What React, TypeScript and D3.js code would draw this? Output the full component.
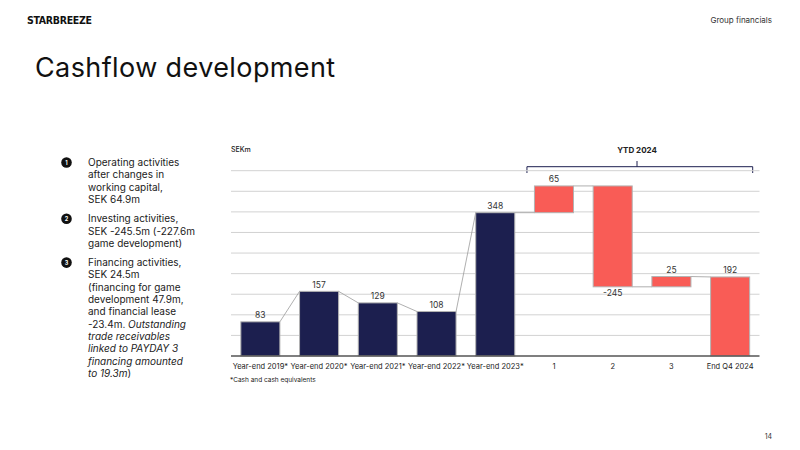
import React from 'react';
import * as d3 from 'd3';

// chart data
const categories = [
  'Year-end 2019*',
  'Year-end 2020*',
  'Year-end 2021*',
  'Year-end 2022*',
  'Year-end 2023*',
  '1',
  '2',
  '3',
  'End Q4 2024',
];
const values = [83, 157, 129, 108, 348, 65, -245, 25, 192];
const kinds = ['total', 'total', 'total', 'total', 'total', 'delta', 'delta', 'delta', 'total'];
const yTicks = [50, 100, 150, 200, 250, 300, 350, 400, 450];

const notes = [
  { num: '1', lines: [['Operating activities'], ['after changes in'], ['working capital,'], ['SEK 64.9m']] },
  { num: '2', lines: [['Investing activities,'], ['SEK -245.5m (-227.6m'], ['game development)']] },
  {
    num: '3',
    lines: [
      ['Financing activities,'],
      ['SEK 24.5m'],
      ['(financing for game'],
      ['development 47.9m,'],
      ['and financial lease'],
      ['-23.4m. ', '*Outstanding'],
      ['*trade receivables'],
      ['*linked to PAYDAY 3'],
      ['*financing amounted'],
      ['*to 19.3m', ')'],
    ],
  },
];

const NAVY = '#1c1f4f';
const CORAL = '#f95c56';
const FONT = 'Inter, "Noto Sans", sans-serif';
const LH = 12.3;

const x = d3.scaleBand<string>().domain(categories).range([231, 759.5]).paddingInner(0.335).paddingOuter(0.1675);
const y = d3.scaleLinear().domain([0, 450]).range([356, 170.7]);

// work out bar start/end for the waterfall
let running = 0;
const bars = values.map((v, i) => {
  let start = 0;
  let end = v;
  if (kinds[i] === 'delta') {
    start = running;
    end = running + v;
  }
  running = end;
  return { cat: categories[i], value: v, kind: kinds[i], start, end };
});

const App = () => {
  const bw = x.bandwidth();
  let noteY = 166;

  return (
    <svg
      width={800}
      height={450}
      style={{ position: 'absolute', left: 0, top: 0, background: '#fff', fontFamily: FONT }}
    >
      {/* header */}
      <text x={27} y={24} fontFamily='"DejaVu Sans Condensed", "DejaVu Sans", sans-serif' fontWeight="bold" fontSize={10.5} fill="#111" letterSpacing={-0.3}>
        STARBREEZE
      </text>
      <text x={772} y={23} textAnchor="end" fontSize={8} fill="#333">
        Group financials
      </text>
      <text x={35} y={77} fontSize={27} fill="#111" letterSpacing={0.4}>
        Cashflow development
      </text>
      <text x={772} y={439} textAnchor="end" fontSize={7} fill="#333">
        14
      </text>

      {/* left notes */}
      {notes.map((n, ni) => {
        const top = noteY;
        noteY += n.lines.length * LH + 7;
        return (
          <g key={ni}>
            <circle cx={66.5} cy={top - 3.5} r={5.3} fill="#111" />
            <text x={66.5} y={top - 1.5} textAnchor="middle" fontSize={5.5} fill="#fff" fontWeight="bold">
              {n.num}
            </text>
            {n.lines.map((parts, li) => (
              <text key={li} x={88} y={top + li * LH} fontSize={10} fill="#222">
                {parts.map((p, pi) =>
                  p.startsWith('*') ? (
                    <tspan key={pi} fontStyle="italic">{p.slice(1)}</tspan>
                  ) : (
                    <tspan key={pi}>{p}</tspan>
                  )
                )}
              </text>
            ))}
          </g>
        );
      })}

      {/* chart labels */}
      <text x={231} y={152} fontSize={7} fill="#222" fontWeight={500}>
        SEKm
      </text>
      <text x={637} y={153} textAnchor="middle" fontSize={8} fontWeight="bold" fill="#222">
        YTD 2024
      </text>
      <path
        d={`M${x('1')! - 7.5},173 V166.7 H752.7 V173 M637,166.7 V161`}
        fill="none"
        stroke={NAVY}
        strokeWidth={1}
      />

      {/* gridlines */}
      {yTicks.map((t) => (
        <line key={t} x1={231} x2={759.5} y1={y(t)} y2={y(t)} stroke="#d2d2d2" strokeWidth={1} />
      ))}

      {/* connectors */}
      {bars.slice(0, -1).map((b, i) => {
        const next = bars[i + 1];
        const fromV = b.end;
        const toV = next.kind === 'delta' ? next.start : next.end;
        return (
          <line
            key={'c' + i}
            x1={x(b.cat)! + bw}
            x2={x(next.cat)!}
            y1={y(fromV)}
            y2={y(toV)}
            stroke="#9a9a9a"
            strokeWidth={0.8}
          />
        );
      })}

      {/* bars */}
      {bars.map((b, i) => {
        const top = Math.max(b.start, b.end);
        const bottom = Math.min(b.start, b.end);
        const fill = i < 5 ? NAVY : CORAL;
        const below = b.value < 0;
        return (
          <g key={b.cat}>
            <rect
              x={x(b.cat)}
              y={y(top)}
              width={bw}
              height={y(bottom) - y(top)}
              fill={fill}
              stroke="#b3b3b3"
              strokeWidth={1}
            />
            <text
              x={x(b.cat)! + bw / 2}
              y={below ? y(bottom) + 9.5 : y(top) - 3.5}
              textAnchor="middle"
              fontSize={8.5}
              fill="#333"
            >
              {b.value}
            </text>
          </g>
        );
      })}

      {/* baseline */}
      <line x1={231} x2={759.5} y1={y(0)} y2={y(0)} stroke="#555" strokeWidth={1.5} />

      {/* x labels */}
      {categories.map((c) => (
        <text key={c} x={x(c)! + bw / 2} y={368.5} textAnchor="middle" fontSize={7.5} fill="#222">
          {c}
        </text>
      ))}
      <text x={230} y={382} fontSize={6.5} fill="#222">
        *Cash and cash equivalents
      </text>
    </svg>
  );
};

export default App;
